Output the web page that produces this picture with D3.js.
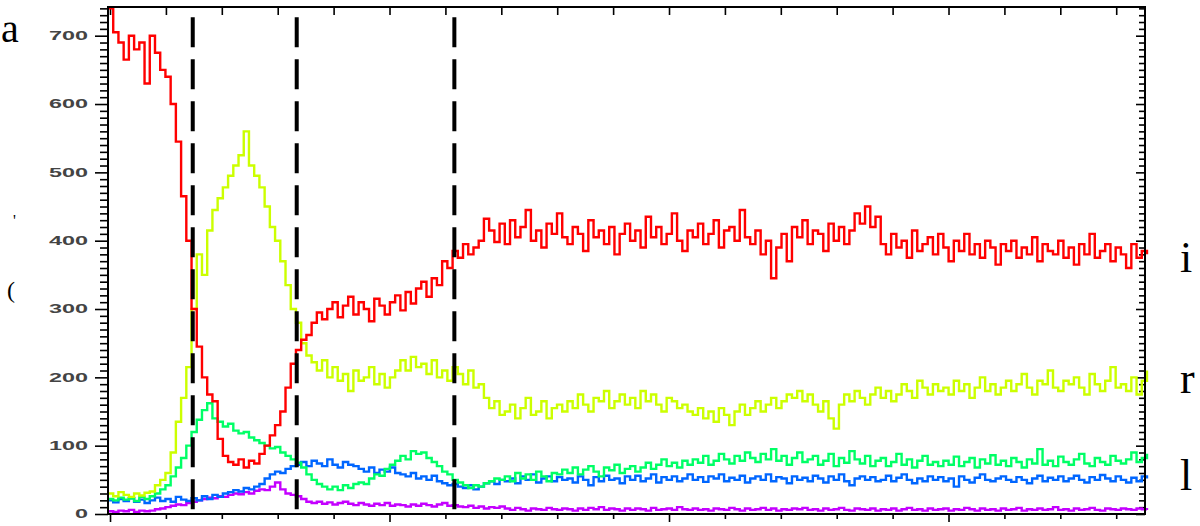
<!DOCTYPE html>
<html lang="en">
<head>
    <meta charset="UTF-8">
    <title>Trace chart</title>
    <script src="https://cdnjs.cloudflare.com/ajax/libs/d3/7.8.5/d3.min.js"></script>
    <style>
        * { margin: 0; padding: 0; }
        body { background: #fff; }
        svg { display: block; }
        .tick-label { font-family: "Liberation Sans", Arial, sans-serif; font-weight: bold; font-size: 12px; fill: #444; }
        .stray { font-family: "Liberation Serif", "Times New Roman", serif; fill: #000; }
    </style>
</head>
<body>
    <div id="chart"></div>

    <script>
        // sample times (axis units, one minor tick = 1)
        const T0 = -0.036;
        const DT = 0.0934;

        const red = [
            740, 705, 690, 665, 700, 680, 690, 630, 700, 675, 650, 640,
            600, 545, 465, 400, 300, 245, 200, 175, 165, 110, 85, 76,
            72, 80, 68, 78, 74, 88, 100, 115, 130, 150, 185, 220,
            240, 255, 262, 280, 295, 285, 300, 310, 288, 305, 318, 292,
            310, 300, 282, 315, 305, 292, 310, 320, 298, 325, 308, 330,
            340, 318, 345, 335, 370, 360, 385, 375, 395, 380, 390, 400,
            432, 415, 398, 425,
            395, 430, 405, 420, 445, 400, 415, 390, 425, 410, 440, 405,
            395, 420, 410, 385, 430, 405, 415, 395, 420, 380, 410, 425,
            400, 415, 390, 435, 405, 420, 395, 410, 440, 400, 385, 415,
            405, 425, 395, 410, 430, 390, 415, 420, 400, 445, 405, 395,
            415, 380, 400, 345, 390, 410, 370, 420, 405, 430, 395, 415,
            410, 385, 425, 400, 420, 395, 415, 440, 425, 450, 420, 435,
            395, 380, 410, 390, 400, 375, 415, 385, 395, 405, 380, 410,
            390, 370, 400, 385, 410, 380, 395, 375, 400, 390, 365, 395,
            385, 400, 375, 390, 380, 405, 370, 395, 385, 380, 400, 375,
            390, 365, 395, 380, 410, 375, 385, 395, 370, 390, 380, 360,
            395, 375, 385, 380
        ];

        const yellow = [
            30, 26, 32, 28, 25, 30, 27, 31, 33, 42, 50, 60,
            90, 135, 170, 215, 300, 380, 350, 415, 445, 462, 478, 495,
            510, 525, 560, 510, 495, 478, 450, 420, 400, 370, 335, 300,
            280, 250, 232, 222, 210, 225, 200, 215, 195, 205, 180, 210,
            195, 200, 215, 190, 205, 185, 200, 210, 225, 210, 230, 215,
            220, 205, 225, 200, 210, 195, 215, 205, 190, 210, 185, 190,
            170, 155, 165, 145,
            150, 160, 140, 155, 170, 145, 150, 165, 140, 155, 160, 150,
            165, 155, 175, 160, 150, 170, 165, 180, 155, 165, 175, 160,
            170, 155, 180, 165, 175, 160, 150, 170, 165, 155, 160, 150,
            145, 155, 140, 150, 135, 155, 145, 130, 150, 160, 145, 155,
            165, 150, 160, 170, 155, 165, 175, 170, 180, 165, 175, 160,
            150, 165, 140, 125, 160, 175, 165, 180, 170, 160, 175, 185,
            170, 180, 165, 175, 190, 180, 170, 195, 185, 175, 190, 180,
            185, 175, 195, 180, 190, 170, 185, 200, 180, 190, 175, 185,
            195, 180, 190, 205, 185, 175, 195, 190, 210, 185, 180, 195,
            190, 200, 185, 175, 205, 190, 180, 195, 215, 185, 190, 180,
            200, 175, 195, 210
        ];

        const green = [
            22, 20, 24, 21, 23, 19, 25, 22, 26, 30, 36, 42,
            55, 68, 82, 100, 120, 138, 152, 162, 140, 135, 128, 132,
            122, 118, 120, 112, 108, 104, 100, 96, 98, 90, 85, 80,
            75, 68, 58, 50, 44, 40, 36, 40, 35, 42, 38, 44,
            46, 44, 52, 58, 56, 66, 72, 78, 85, 80, 92, 88,
            90, 82, 76, 70, 62, 58, 50, 46, 42, 38, 42, 40,
            45, 48, 52, 50,
            55, 48, 60, 52, 58, 50, 62, 55, 48, 60, 58, 65,
            60, 68, 58, 65, 70, 62, 55, 68, 64, 72, 60, 66,
            70, 62, 68, 75, 66, 72, 80, 70, 75, 68, 78, 72,
            80, 75, 85, 72, 78, 88, 80, 74, 85, 78, 90, 82,
            76, 88, 80, 95, 78, 85, 72, 82, 90, 76, 80, 85,
            72, 78, 88, 70, 82, 75, 92, 80, 74, 85, 70, 78,
            82, 70, 76, 88, 72, 80, 68, 78, 85, 72, 76, 70,
            78, 72, 84, 70, 76, 82, 68, 80, 74, 86, 72, 78,
            70, 82, 76, 68, 80, 74, 95, 72, 78, 70, 84, 76,
            72, 80, 88, 74, 70, 82, 76, 72, 85, 78, 74, 80,
            90, 76, 82, 88
        ];

        const blue = [
            20, 17, 22, 19, 23, 18, 21, 16, 20, 24, 19, 22,
            18, 25, 21, 19, 23, 20, 26, 22, 28, 25, 30, 32,
            35, 33, 38, 36, 40, 44, 52, 58, 62, 60, 66, 70,
            72, 76, 70, 78, 74, 70, 80, 72, 68, 76, 72, 70,
            66, 62, 68, 60, 65, 62, 68, 60, 58, 55, 60, 52,
            55, 50, 56, 48, 45, 42, 44, 40, 38, 42, 36, 40,
            45, 48, 44, 50,
            48, 52, 45, 55, 50, 58, 46, 52, 55, 48, 54, 50,
            52, 46, 55, 50, 42, 54, 48, 56, 50, 52, 45, 55,
            50, 56, 48, 52, 58, 46, 54, 50, 55, 48, 52, 58,
            50, 54, 47, 55, 52, 58, 48, 53, 50, 56, 46, 52,
            55, 50, 58, 48, 54, 52, 45, 55, 50, 53, 48, 56,
            52, 46, 55, 50, 58, 48, 42, 52, 55, 50, 54, 48,
            50, 56, 48, 53, 58, 50, 45, 52, 48, 55, 50, 54,
            48, 52, 40, 55, 50, 46, 53, 58, 50, 48, 52, 55,
            50, 47, 54, 50, 45, 52, 56, 48, 53, 50, 55, 48,
            52, 56, 50, 46, 54, 50, 57, 52, 48, 55, 50, 46,
            53, 48, 55, 52
        ];

        const purple = [
            4, 3, 5, 4, 6, 3, 5, 4, 5, 7, 8, 10,
            12, 14, 13, 16, 18, 20, 22, 24, 23, 26, 25, 28,
            30, 29, 32, 30, 34, 36, 35, 40, 46, 36, 30, 28,
            26, 22, 18, 16, 18, 15, 17, 14, 16, 18, 15, 13,
            16, 14, 12, 15, 13, 16, 12, 14, 13, 11, 14, 12,
            15, 13, 11, 14, 16, 12, 13, 11, 10, 12, 9, 11,
            8, 10, 9, 11,
            8, 6, 9, 7, 5, 8, 7, 6, 9, 7, 6, 8,
            7, 5, 8, 6, 9, 7, 10, 6, 8, 7, 5, 8,
            6, 8, 7, 5, 9, 6, 7, 8, 6, 10, 7, 6,
            8, 6, 7, 5, 8, 7, 6, 9, 7, 5, 8, 6,
            7, 9, 6, 8, 5, 7, 6, 8, 7, 9, 6, 7,
            5, 8, 6, 7, 9, 6, 5, 8, 7, 6, 8, 5,
            7, 6, 8, 5, 7, 9, 6, 7, 5, 8, 6, 7,
            8, 5, 7, 6, 9, 7, 5, 8, 6, 7, 5, 8,
            6, 7, 9, 5, 7, 6, 8, 6, 7, 10, 6, 7,
            5, 8, 6, 7, 9, 6, 5, 8, 7, 6, 8, 7,
            6, 8, 7, 6
        ];

        const markerTimes = [1.48, 3.34, 6.16];
        const markerTop = 727;
        const yMajorTicks = [0, 100, 200, 300, 400, 500, 600, 700];
        const xTickCount = 19;

        const series = [
            { name: "purple", color: "#c400ff", values: purple },
            { name: "blue", color: "#0066ff", values: blue },
            { name: "green", color: "#00ff66", values: green },
            { name: "yellow", color: "#ccff00", values: yellow },
            { name: "red", color: "#ff0000", values: red }
        ];

        const width = 1200, height = 526;
        const plot = { left: 108, right: 1145, top: 7, bottom: 514 };

        const x = d3.scaleLinear().domain([-0.036, 18.515]).range([plot.left, plot.right]);
        const y = d3.scaleLinear().domain([0, 742]).range([plot.bottom, plot.top]);

        const svg = d3.select("#chart").append("svg")
            .attr("width", width)
            .attr("height", height);

        svg.append("rect").attr("width", width).attr("height", height).attr("fill", "#fff");

        const yMinor = d3.range(0, 741, 10).filter(v => v % 100 !== 0);
        const xAll = d3.range(0, xTickCount);

        function styleAxis(g, w) {
            g.select(".domain").remove();
            g.selectAll(".tick line").attr("stroke", "#000").attr("stroke-width", w);
        }

        // left axis: outward ticks with labels
        svg.append("g").attr("transform", `translate(${plot.left},0)`)
            .call(d3.axisLeft(y).tickValues(yMinor).tickSize(8).tickFormat(""))
            .call(g => styleAxis(g, 1.6));
        const leftMajor = svg.append("g").attr("transform", `translate(${plot.left},0)`)
            .call(d3.axisLeft(y).tickValues(yMajorTicks).tickSize(13).tickPadding(7))
            .call(g => styleAxis(g, 1.6));
        leftMajor.selectAll("text")
            .attr("class", "tick-label")
            .attr("font-size", null)
            .attr("font-family", null)
            .attr("fill", null)
            .attr("textLength", d => String(d).length * 13)
            .attr("lengthAdjust", "spacingAndGlyphs");

        // right axis: inward ticks
        svg.append("g").attr("transform", `translate(${plot.right},0)`)
            .call(d3.axisLeft(y).tickValues(yMinor).tickSize(6).tickFormat(""))
            .call(g => styleAxis(g, 1.6));
        svg.append("g").attr("transform", `translate(${plot.right},0)`)
            .call(d3.axisLeft(y).tickValues(yMajorTicks).tickSize(9).tickFormat(""))
            .call(g => styleAxis(g, 1.6));

        // bottom axis: outward ticks, long every 5
        svg.append("g").attr("transform", `translate(0,${plot.bottom})`)
            .call(d3.axisBottom(x).tickValues(xAll.filter(v => v % 5 !== 0)).tickSize(5).tickFormat(""))
            .call(g => styleAxis(g, 1.6));
        svg.append("g").attr("transform", `translate(0,${plot.bottom})`)
            .call(d3.axisBottom(x).tickValues(xAll.filter(v => v % 5 === 0)).tickSize(8).tickFormat(""))
            .call(g => styleAxis(g, 1.6));

        // top axis: inward ticks
        svg.append("g").attr("transform", `translate(0,${plot.top})`)
            .call(d3.axisBottom(x).tickValues(xAll).tickSize(8).tickFormat(""))
            .call(g => styleAxis(g, 1.6));

        // traces
        const line = d3.line()
            .x((d, i) => x(T0 + i * DT))
            .y(d => y(Math.min(d, 742)))
            .curve(d3.curveStepAfter);

        svg.append("g").selectAll("path")
            .data(series)
            .join("path")
            .attr("d", d => line(d.values))
            .attr("fill", "none")
            .attr("stroke", d => d.color)
            .attr("stroke-width", 2.4);

        // dashed markers
        svg.append("g").selectAll("line")
            .data(markerTimes)
            .join("line")
            .attr("x1", d => x(d)).attr("x2", d => x(d))
            .attr("y1", y(markerTop)).attr("y2", y(0))
            .attr("stroke", "#000")
            .attr("stroke-width", 4)
            .attr("stroke-dasharray", "30 12");

        // frame
        svg.append("rect")
            .attr("x", plot.left).attr("y", plot.top)
            .attr("width", plot.right - plot.left)
            .attr("height", plot.bottom - plot.top)
            .attr("fill", "none")
            .attr("stroke", "#000")
            .attr("stroke-width", 2);

        // letters at the picture edges
        const stray = [
            { t: "a", x: 1, y: 42, size: 40 },
            { t: "'", x: 13, y: 226, size: 16 },
            { t: "(", x: 7, y: 298, size: 24 },
            { t: "i", x: 1180, y: 272, size: 44 },
            { t: "r", x: 1180, y: 393, size: 44 },
            { t: "l", x: 1180, y: 490, size: 44 }
        ];
        svg.append("g").selectAll("text")
            .data(stray)
            .join("text")
            .attr("class", "stray")
            .attr("x", d => d.x).attr("y", d => d.y)
            .attr("font-size", d => d.size)
            .text(d => d.t);
    </script>
</body>
</html>
